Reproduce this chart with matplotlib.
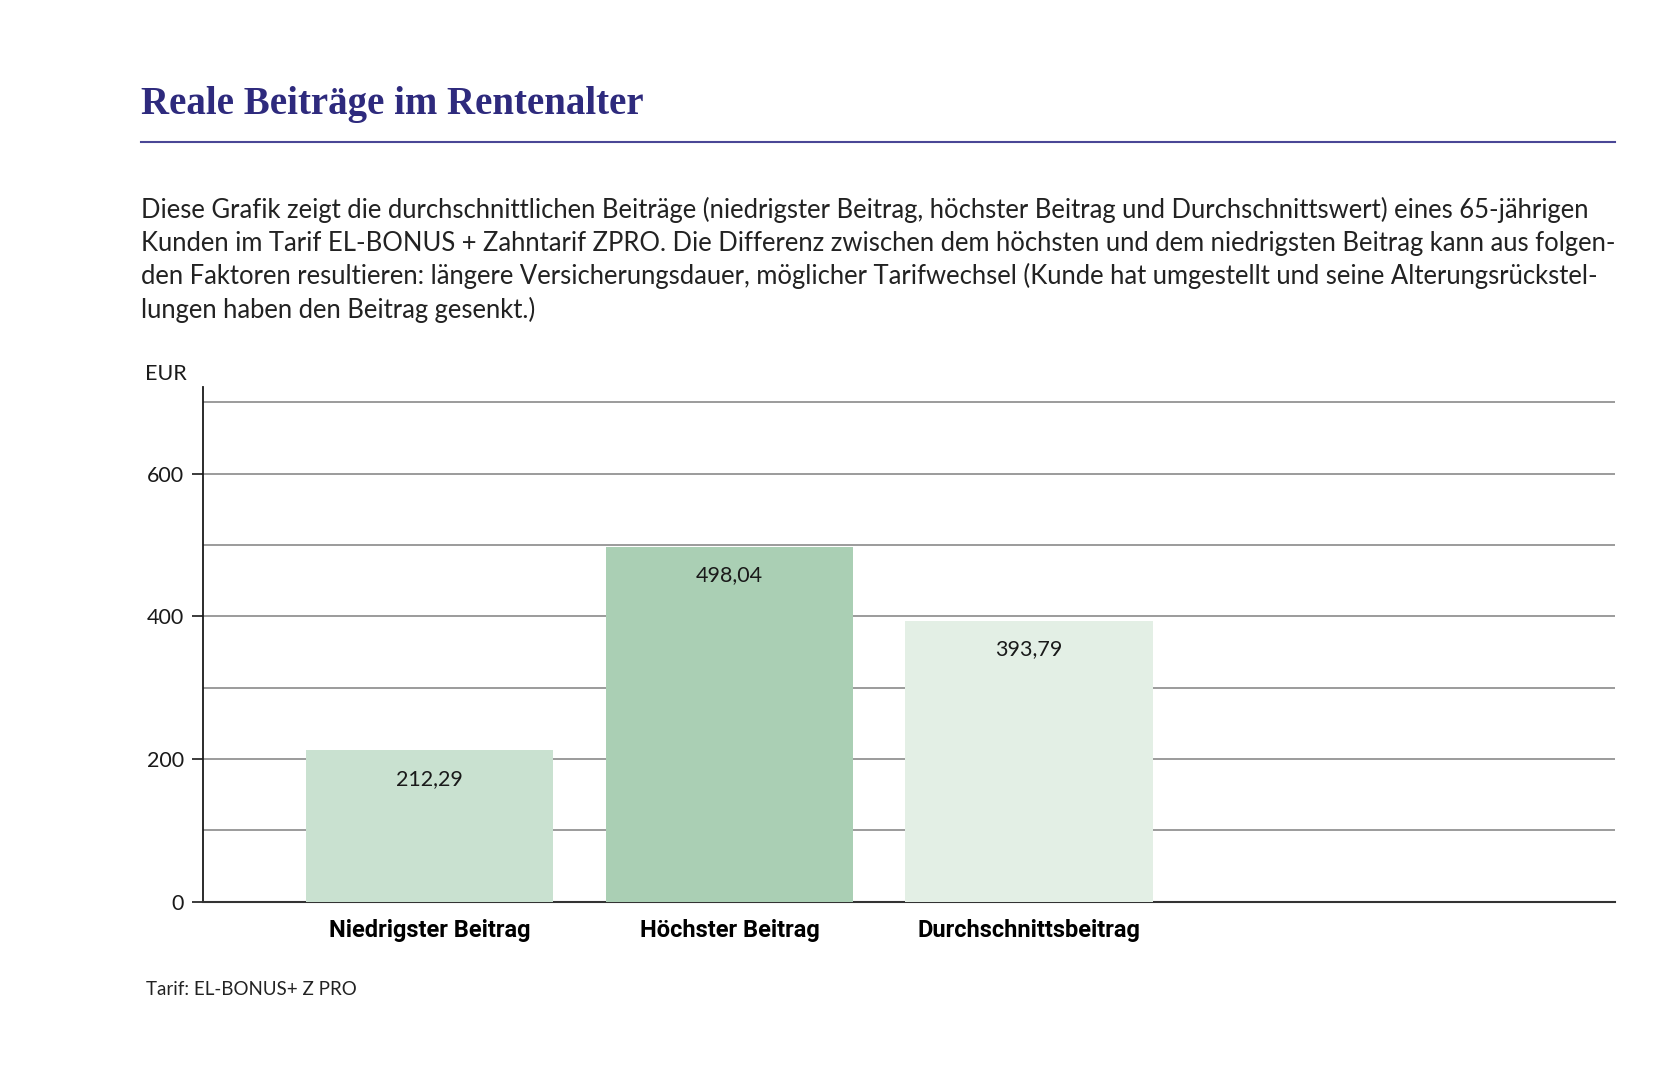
import matplotlib.pyplot as plt
import numpy as np

categories = ['Niedrigster Beitrag', 'Höchster Beitrag', 'Durchschnittsbeitrag']
values = [212.29, 498.04, 393.79]
value_labels = ['212,29', '498,04', '393,79']
bar_colors = ['#c9e1d0', '#aacfb4', '#e3efe5']
y_ticks = [0, 200, 400, 600]
y_grid = [100, 200, 300, 400, 500, 600, 700]

title = 'Reale Beiträge im Rentenalter'
intro_lines = [
    'Diese Grafik zeigt die durchschnittlichen Beiträge (niedrigster Beitrag, höchster Beitrag und Durchschnittswert) eines 65-jährigen',
    'Kunden im Tarif EL-BONUS + Zahntarif ZPRO. Die Differenz zwischen dem höchsten und dem niedrigsten Beitrag kann aus folgen-',
    'den Faktoren resultieren: längere Versicherungsdauer, möglicher Tarifwechsel (Kunde hat umgestellt und seine Alterungsrückstel-',
    'lungen haben den Beitrag gesenkt.)',
]
footnote = 'Tarif: EL-BONUS+ Z PRO'

body_font = ['Lato', 'DejaVu Sans']
navy = '#2e2a7d'
right_edge = 0.9625

fig = plt.figure(figsize=(16.78, 10.66), dpi=100)
fig.patch.set_facecolor('white')

# header
fig.text(0.084, 0.902, title, family=['Liberation Serif', 'DejaVu Serif'],
         fontweight='bold', fontsize=28, color=navy, va='center', ha='left')
fig.add_artist(plt.Line2D([0.084, right_edge], [0.8668, 0.8668], color='#4a4796', lw=1.5))

line_y = [0.8032, 0.772, 0.7407, 0.7094]
for txt, y in zip(intro_lines, line_y):
    fig.text(0.084, y, txt, family=body_font, fontsize=18.45, color='#222222',
             va='center', ha='left')

# chart
ax = fig.add_axes([0.1212, 0.154, right_edge - 0.1212, 0.6365 - 0.154])
x = np.arange(len(categories))
ax.bar(x, values, width=0.825, color=bar_colors, zorder=3)

for xi, v, lab in zip(x, values, value_labels):
    ax.text(xi, v - 40, lab, ha='center', va='center', fontsize=15.5,
            family=body_font, color='#1a1a1a', zorder=4)

for g in y_grid:
    ax.axhline(g, color='#8a8a8a', lw=1.2, zorder=1)

ax.set_xlim(-0.755, 3.955)
ax.set_ylim(0, 721)
ax.set_yticks(y_ticks)
ax.set_yticklabels([str(t) for t in y_ticks], family=body_font, fontsize=15.5)
ax.tick_params(axis='y', length=8, width=1.2, pad=6, colors='#1a1a1a')
ax.set_xticks(x)
ax.set_xticklabels(categories, family=['Liberation Sans Narrow', 'Roboto', 'DejaVu Sans'],
                   fontweight='bold', fontsize=17)
ax.tick_params(axis='x', length=0, pad=12)

for s in ['top', 'right']:
    ax.spines[s].set_visible(False)
ax.spines['left'].set_linewidth(1.3)
ax.spines['bottom'].set_linewidth(1.5)
ax.spines['left'].set_color('#1a1a1a')
ax.spines['bottom'].set_color('#333333')

fig.text(0.0865, 0.6488, 'EUR', family=body_font, fontsize=15.5, color='#1a1a1a',
         va='center', ha='left')
fig.text(0.0872, 0.072, footnote, family=body_font, fontsize=13.5, color='#222222',
         va='center', ha='left')

fig.savefig('out.png', dpi=100, facecolor='white')
